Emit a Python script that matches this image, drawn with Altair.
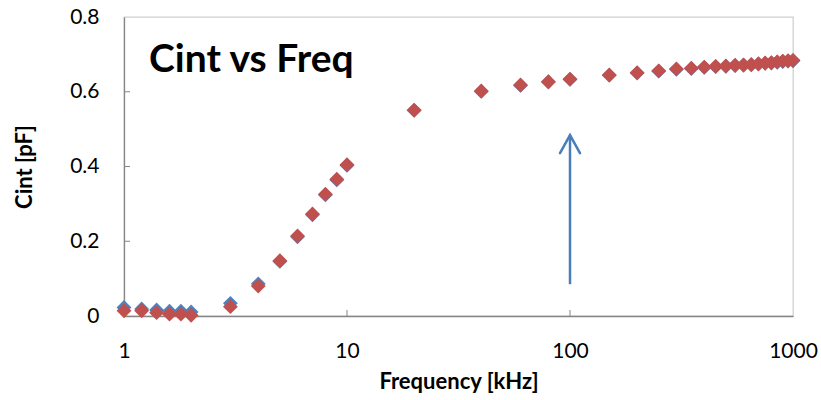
import altair as alt
import pandas as pd

# ---- data ----
freq_khz = [1, 1.2, 1.4, 1.6, 1.8, 2, 3, 4, 5, 6, 7, 8, 9, 10, 20, 40, 60, 80, 100,
            150, 200, 250, 300, 350, 400, 450, 500, 550, 600, 650, 700, 750, 800,
            850, 900, 950, 1000]
cint_red = [0.014, 0.014, 0.009, 0.005, 0.005, 0.002, 0.025, 0.080, 0.148, 0.214,
            0.273, 0.326, 0.366, 0.405, 0.551, 0.602, 0.618, 0.627, 0.634, 0.645,
            0.651, 0.656, 0.661, 0.663, 0.666, 0.668, 0.669, 0.671, 0.672, 0.673,
            0.675, 0.677, 0.678, 0.680, 0.682, 0.683, 0.684]
cint_blue = [0.023, 0.019, 0.016, 0.013, 0.013, 0.011, 0.034, 0.086, 0.146, 0.212,
             0.271, 0.324, 0.364, 0.403, 0.550, 0.601, 0.617, 0.626, 0.633, 0.644,
             0.650, 0.655, 0.660, 0.662, 0.665, 0.667, 0.668, 0.670, 0.671, 0.672,
             0.674, 0.676, 0.677, 0.679, 0.681, 0.682, 0.683]

x_tick_values = [1, 10, 100, 1000]
y_tick_values = [0, 0.2, 0.4, 0.6, 0.8]
x_inner_ticks = [10, 100]
y_inner_ticks = [0.2, 0.4, 0.6]

arrow_x = [100]
arrow_y_start = [0.085]
arrow_y_end = [0.484]

chart_title = "Cint vs Freq"

W, H = 669, 299
FONT = "Lato"

df_red = pd.DataFrame({"f": freq_khz, "c": cint_red})
df_blue = pd.DataFrame({"f": freq_khz, "c": cint_blue})
df_arrow = pd.DataFrame({"f": arrow_x, "y0": arrow_y_start, "y1": arrow_y_end})
df_xt = pd.DataFrame({"f": x_inner_ticks})
df_yt = pd.DataFrame({"c": y_inner_ticks})

xscale = alt.Scale(type="log", domain=[1, 1000], nice=False)
yscale = alt.Scale(domain=[0, 0.8], nice=False, zero=True)

xaxis = alt.Axis(values=x_tick_values, format="~g", title="Frequency [kHz]",
                 grid=False, ticks=False, labelPadding=24, titlePadding=10,
                 labelFlush=False, labelOverlap=False,
                 domainColor="#868686", domainWidth=1.3,
                 labelFont=FONT, labelFontSize=21, labelColor="black",
                 titleFont=FONT, titleFontSize=22, titleFontWeight="bold", titleColor="black")
yaxis = alt.Axis(values=y_tick_values, format="~g", title="Cint [pF]",
                 grid=False, ticks=False, labelPadding=25, titlePadding=33,
                 labelFlush=False, labelOverlap=False,
                 domainColor="#868686", domainWidth=1.3,
                 labelFont=FONT, labelFontSize=21, labelColor="black",
                 titleFont=FONT, titleFontSize=22, titleFontWeight="bold", titleColor="black")

x_enc = alt.X("f:Q", scale=xscale, axis=xaxis)
y_enc = alt.Y("c:Q", scale=yscale, axis=yaxis)

blue = alt.Chart(df_blue).mark_point(shape="diamond", filled=True, size=220,
                                     color="#4F81BD", opacity=1).encode(x=x_enc, y=y_enc)
red = alt.Chart(df_red).mark_point(shape="diamond", filled=True, size=220,
                                   color="#C0504D", opacity=1).encode(
    x=alt.X("f:Q", scale=xscale), y=alt.Y("c:Q", scale=yscale))

xt = alt.Chart(df_xt).mark_rule(color="#868686", strokeWidth=1).encode(
    x=alt.X("f:Q", scale=xscale), y=alt.value(H - 6), y2=alt.value(H))
yt = alt.Chart(df_yt).mark_rule(color="#868686", strokeWidth=1).encode(
    y=alt.Y("c:Q", scale=yscale), x=alt.value(0), x2=alt.value(6))

arrow_line = alt.Chart(df_arrow).mark_rule(color="#4A7EBB", strokeWidth=2.5).encode(
    x=alt.X("f:Q", scale=xscale), y=alt.Y("y0:Q", scale=yscale), y2="y1:Q")
arrow_head = alt.Chart(df_arrow).mark_point(
    shape="M-1,1.8L0,0L1,1.8", filled=False, size=400, color="#4A7EBB",
    strokeWidth=2.5, opacity=1, strokeCap="round", strokeJoin="miter").encode(
    x=alt.X("f:Q", scale=xscale), y=alt.Y("y1:Q", scale=yscale))

title = alt.Chart(pd.DataFrame({"t": [chart_title]})).mark_text(
    align="left", baseline="alphabetic", font=FONT, fontSize=39, fontWeight="bold",
    color="black").encode(text="t:N", x=alt.value(25), y=alt.value(55))

chart = alt.layer(yt, xt, blue, red, arrow_line, arrow_head, title).properties(
    width=W, height=H,
    background="white",
    autosize=alt.AutoSizeParams(type="none"),
    padding={"left": 124, "top": 17, "right": 28, "bottom": 84},
).configure_view(stroke="#D0D0D0", strokeWidth=1.3)

chart.save("out.html", embed_options={"renderer": "svg", "actions": False})
